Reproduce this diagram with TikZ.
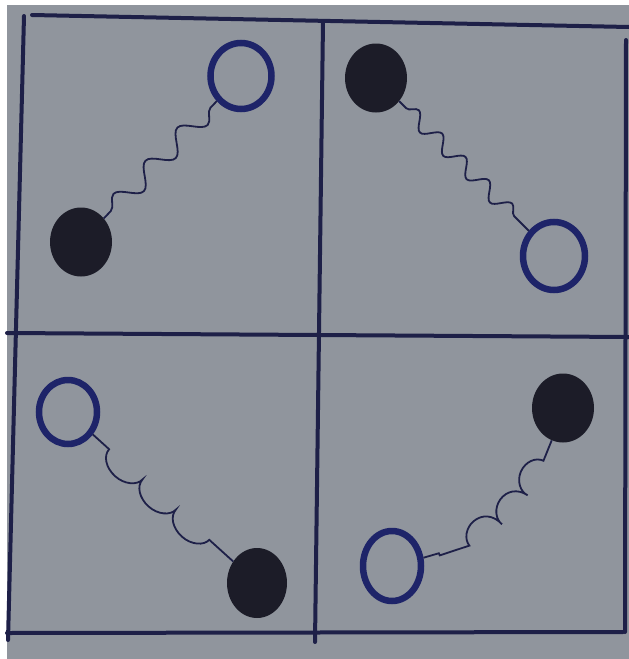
\documentclass[tikz,border=0pt]{standalone}
\usetikzlibrary{shapes.geometric,decorations.pathmorphing}

\definecolor{paper}{RGB}{144,149,157}
\definecolor{ink}{RGB}{30,32,72}
\definecolor{ringink}{RGB}{30,36,105}
\definecolor{blobink}{RGB}{28,28,40}

\tikzset{
  ring/.style={ellipse, draw=ringink, line width=6.5pt, inner sep=0pt,
    minimum width=60pt, minimum height=66pt},
  blob/.style={ellipse, fill=blobink, inner sep=0pt,
    minimum width=62pt, minimum height=69pt},
  wavy/.style 2 args={draw=ink, line width=1.8pt, decorate,
    decoration={snake, amplitude=#2, segment length=#1,
      pre length=10pt, post length=6pt}},
  curly/.style={draw=ink, line width=1.8pt, decorate,
    decoration={bumps, mirror, amplitude=16pt, segment length=#1,
      pre length=22pt, post length=16pt}},
}

\begin{document}
\begin{tikzpicture}[x=1pt, y=-1pt]
  \useasboundingbox (0,0) rectangle (629,659);

  % Paper and the ruled square.
  \fill[white] (0,0) rectangle (629,659);
  \fill[paper] (7,5) rectangle (629,659);
  \begin{scope}[ink, line width=4pt, line cap=round]
    \draw (32,15) -- (629,27);
    \draw (24,16) -- (8,640);
    \draw (7,633) -- (623,632);
    \draw (626,40) -- (625,632);
    \draw (323,22) -- (315,642);
    \draw (7,333) -- (629,337);
  \end{scope}

  % Top left: filled ball below, ring above.
  \node[blob] (tlfill) at (81,242) {};
  \node[ring, minimum width=61pt, minimum height=66pt] (tlring) at (241,76) {};
  \draw[wavy={46pt}{10pt}] (tlfill) -- (tlring);

  % Top right: filled ball above, ring below.
  \node[blob] (trfill) at (376,78) {};
  \node[ring, minimum width=62pt, minimum height=68pt] (trring) at (554,256) {};
  \draw[wavy={33pt}{7.5pt}] (trfill) -- (trring);

  % Bottom left: ring above, filled ball below.
  \node[ring, minimum width=58pt, minimum height=64pt] (blring) at (68,412) {};
  \node[blob, minimum width=60pt, minimum height=70pt] (blfill) at (257,583) {};
  \draw[curly=90pt] (blring) -- (blfill);

  % Bottom right: filled ball above, ring below.
  \node[blob] (brfill) at (563,408) {};
  \node[ring, minimum width=58pt, minimum height=70pt] (brring) at (392,566) {};
  \draw[curly=76pt] (brfill) to[bend left=28] (brring);
\end{tikzpicture}
\end{document}
